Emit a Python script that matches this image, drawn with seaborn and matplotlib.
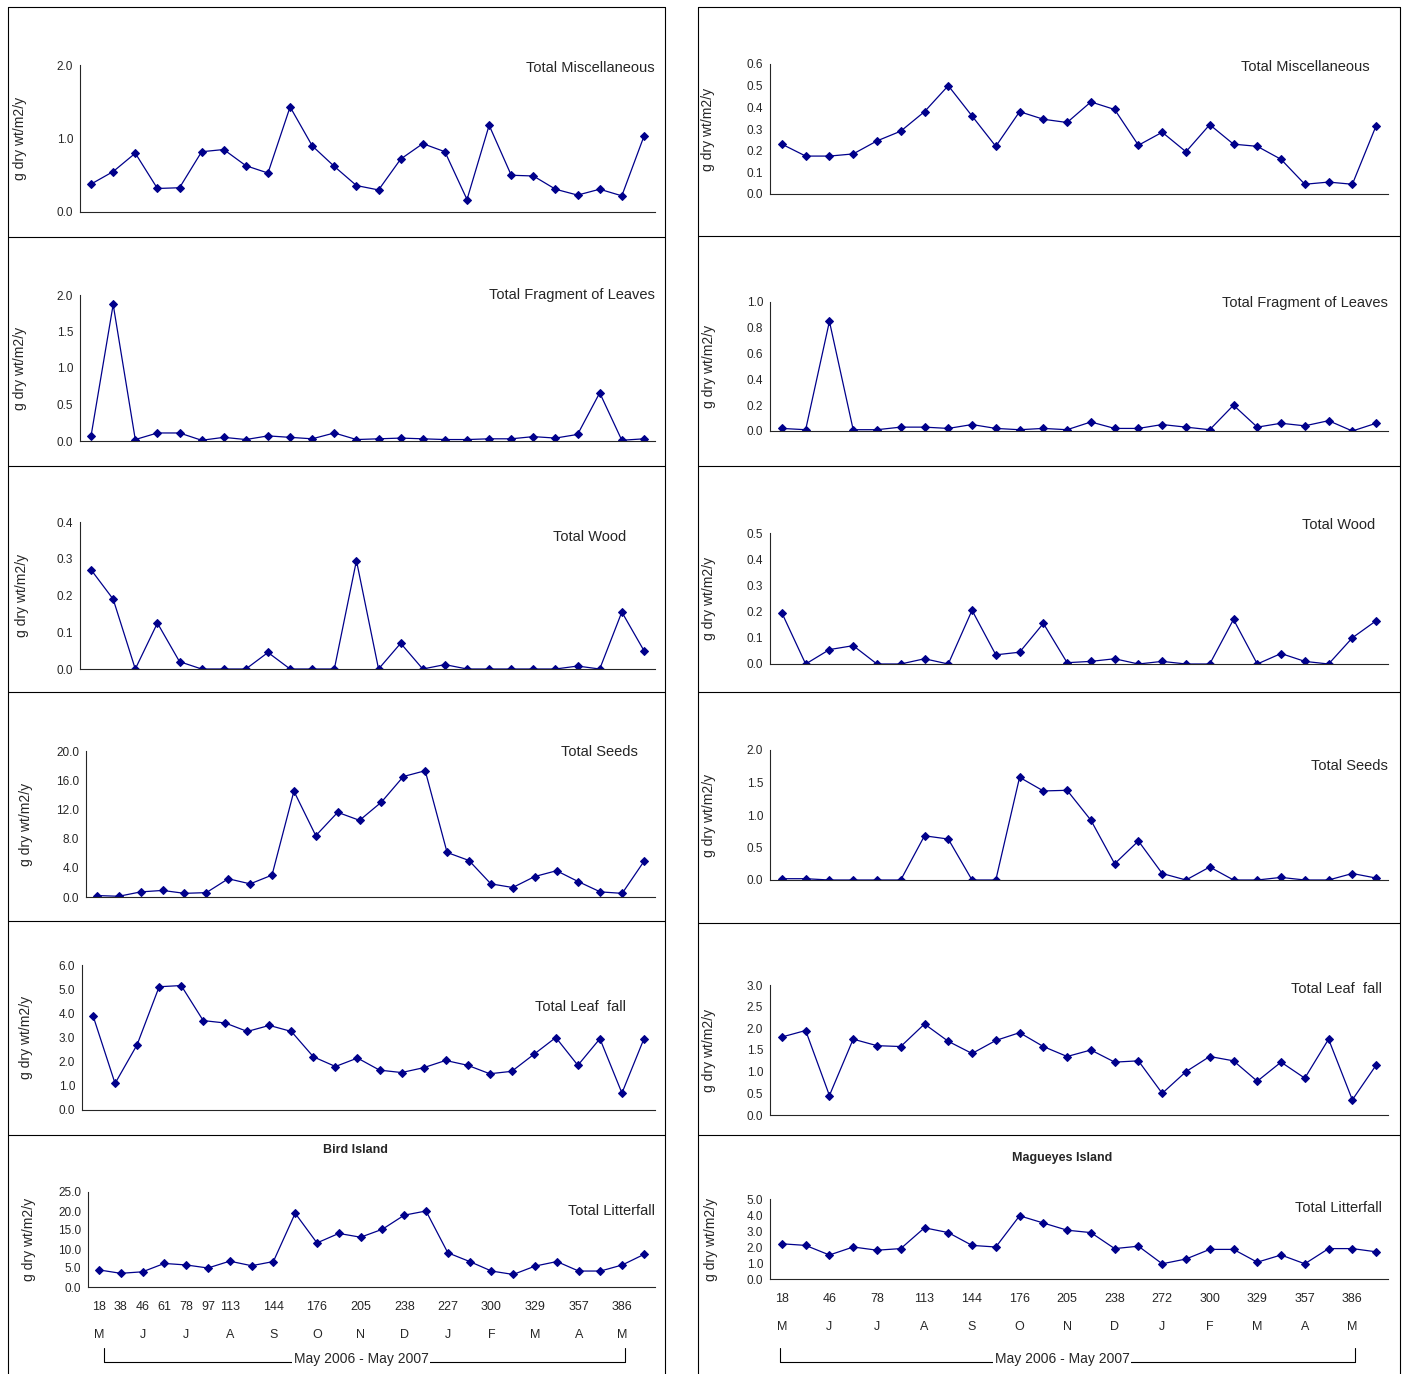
import numpy as np
import pandas as pd
import matplotlib
matplotlib.use("Agg")
import matplotlib.pyplot as plt
from matplotlib.lines import Line2D
import seaborn as sns

sns.set_style("white")
plt.rcParams['font.family'] = ['Liberation Sans', 'DejaVu Sans']

# ---- data: 26 sampling points per site ----
bird_misc = [0.38, 0.55, 0.80, 0.32, 0.33, 0.82, 0.85, 0.63, 0.53, 1.43, 0.90, 0.62, 0.36,
             0.30, 0.72, 0.93, 0.82, 0.17, 1.18, 0.50, 0.49, 0.31, 0.23, 0.31, 0.22, 1.03]
bird_frag = [0.07, 1.87, 0.02, 0.11, 0.11, 0.01, 0.05, 0.02, 0.07, 0.05, 0.03, 0.11, 0.02,
             0.03, 0.04, 0.03, 0.02, 0.02, 0.03, 0.03, 0.06, 0.04, 0.09, 0.66, 0.01, 0.03]
bird_wood = [0.27, 0.19, 0.0, 0.125, 0.02, 0.0, 0.0, 0.0, 0.045, 0.0, 0.0, 0.0, 0.295,
             0.0, 0.07, 0.0, 0.012, 0.0, 0.0, 0.0, 0.0, 0.0, 0.008, 0.0, 0.155, 0.05]
bird_seeds = [0.2, 0.1, 0.7, 0.9, 0.5, 0.6, 2.5, 1.8, 3.0, 14.5, 8.4, 11.6, 10.5,
              13.0, 16.5, 17.3, 6.1, 5.0, 1.8, 1.3, 2.8, 3.6, 2.1, 0.7, 0.5, 4.9]
bird_leaf = [3.9, 1.1, 2.7, 5.1, 5.15, 3.7, 3.6, 3.25, 3.5, 3.25, 2.2, 1.8, 2.15,
             1.65, 1.55, 1.75, 2.05, 1.85, 1.5, 1.6, 2.3, 3.0, 1.85, 2.95, 0.7, 2.95]
bird_total = [4.5, 3.6, 4.0, 6.2, 5.8, 5.0, 6.8, 5.6, 6.7, 19.4, 11.6, 14.1, 13.1,
              15.2, 18.9, 20.0, 9.0, 6.7, 4.2, 3.3, 5.5, 6.7, 4.2, 4.2, 5.8, 8.6]

mag_misc = [0.23, 0.175, 0.175, 0.185, 0.245, 0.29, 0.38, 0.50, 0.36, 0.22, 0.38, 0.345, 0.33,
            0.425, 0.39, 0.225, 0.285, 0.195, 0.32, 0.23, 0.22, 0.16, 0.045, 0.055, 0.045, 0.315]
mag_frag = [0.02, 0.01, 0.85, 0.01, 0.01, 0.03, 0.03, 0.02, 0.05, 0.02, 0.01, 0.02, 0.01,
            0.07, 0.02, 0.02, 0.05, 0.03, 0.01, 0.20, 0.03, 0.06, 0.04, 0.08, 0.0, 0.06]
mag_wood = [0.195, 0.0, 0.055, 0.07, 0.0, 0.0, 0.02, 0.0, 0.205, 0.035, 0.045, 0.155, 0.005,
            0.01, 0.02, 0.0, 0.01, 0.0, 0.0, 0.17, 0.0, 0.04, 0.01, 0.0, 0.10, 0.165]
mag_seeds = [0.02, 0.02, 0.0, 0.0, 0.0, 0.0, 0.68, 0.63, 0.0, 0.0, 1.58, 1.37, 1.38,
             0.92, 0.25, 0.60, 0.10, 0.0, 0.20, 0.0, 0.0, 0.04, 0.0, 0.0, 0.10, 0.03]
mag_leaf = [1.8, 1.95, 0.45, 1.75, 1.6, 1.58, 2.1, 1.7, 1.42, 1.72, 1.9, 1.58, 1.35,
            1.5, 1.22, 1.25, 0.5, 1.0, 1.35, 1.25, 0.78, 1.22, 0.85, 1.75, 0.35, 1.15]
mag_total = [2.2, 2.1, 1.5, 2.0, 1.8, 1.9, 3.2, 2.9, 2.1, 2.0, 3.95, 3.5, 3.05,
             2.9, 1.9, 2.05, 0.95, 1.25, 1.85, 1.85, 1.05, 1.5, 0.95, 1.9, 1.9, 1.7]

bird_day_pos = [0, 1, 2, 3, 4, 5, 6, 8, 10, 12, 14, 16, 18, 20, 22, 24]
bird_day_lab = ['18', '38', '46', '61', '78', '97', '113', '144', '176', '205', '238', '227',
                '300', '329', '357', '386']
mag_day_pos = [0, 2, 4, 6, 8, 10, 12, 14, 16, 18, 20, 22, 24]
mag_day_lab = ['18', '46', '78', '113', '144', '176', '205', '238', '272', '300', '329', '357', '386']
month_pos = [0, 2, 4, 6, 8, 10, 12, 14, 16, 18, 20, 22, 24]
month_lab = ['M', 'J', 'J', 'A', 'S', 'O', 'N', 'D', 'J', 'F', 'M', 'A', 'M']

W, H = 1405, 1374
fig = plt.figure(figsize=(W / 100, H / 100), dpi=100)
navy = '#00008B'


def px_axes(x0, y0, x1, y1):
    return fig.add_axes([x0 / W, 1 - y1 / H, (x1 - x0) / W, (y1 - y0) / H])


def panel(box, vals, yticks, title, tpos, label_x, fs=8.5):
    ax = px_axes(*box)
    df = pd.DataFrame({'x': np.arange(len(vals)), 'y': vals})
    sns.lineplot(data=df, x='x', y='y', ax=ax, color=navy, lw=0.9,
                 marker='D', markersize=4, markeredgecolor=navy)
    ax.set_xlim(-0.5, len(vals) - 0.5)
    ax.set_ylim(yticks[0], yticks[-1])
    ax.set_yticks(yticks)
    ax.set_yticklabels([f'{t:.1f}' for t in yticks], fontsize=fs)
    ax.set_xticks(np.arange(len(vals)) + 0.5)
    ax.set_xticklabels([])
    ax.tick_params(axis='both', direction='out', length=3, width=0.8, pad=2)
    for s in ['top', 'right']:
        ax.spines[s].set_visible(False)
    ax.spines['left'].set_linewidth(0.8)
    ax.spines['bottom'].set_linewidth(0.8)
    ax.set_xlabel('')
    ax.set_ylabel('g dry wt/m2/y', fontsize=10)
    ax.yaxis.set_label_coords((label_x - box[0]) / (box[2] - box[0]), 0.5)
    ax.text(tpos[0], tpos[1], title, transform=ax.transAxes, ha='right', va='center', fontsize=10.5)
    return ax


# left column (Bird Island)
panel((80, 65, 655, 212), bird_misc, [0.0, 1.0, 2.0], 'Total Miscellaneous', (1.0, 0.98), 27)
panel((80, 295, 655, 441), bird_frag, [0.0, 0.5, 1.0, 1.5, 2.0], 'Total Fragment of Leaves', (1.0, 1.0), 27)
panel((80, 522, 655, 669), bird_wood, [0.0, 0.1, 0.2, 0.3, 0.4], 'Total Wood', (0.95, 0.9), 29)
panel((86, 751, 655, 897), bird_seeds, [0.0, 4.0, 8.0, 12.0, 16.0, 20.0], 'Total Seeds', (0.97, 0.99), 33)
panel((82, 965, 655, 1110), bird_leaf, [0.0, 1.0, 2.0, 3.0, 4.0, 5.0, 6.0], 'Total Leaf  fall', (0.95, 0.71), 33)
axb = panel((88, 1192, 655, 1287), bird_total, [0.0, 5.0, 10.0, 15.0, 20.0, 25.0], 'Total Litterfall', (1.0, 0.8), 36)

# right column (Magueyes Island)
panel((770, 64, 1388, 194), mag_misc, [0.0, 0.1, 0.2, 0.3, 0.4, 0.5, 0.6], 'Total Miscellaneous', (0.97, 0.98), 715)
panel((770, 302, 1388, 431), mag_frag, [0.0, 0.2, 0.4, 0.6, 0.8, 1.0], 'Total Fragment of Leaves', (1.0, 0.99), 716)
panel((770, 533, 1388, 664), mag_wood, [0.0, 0.1, 0.2, 0.3, 0.4, 0.5], 'Total Wood', (0.98, 1.06), 716)
panel((770, 750, 1388, 880), mag_seeds, [0.0, 0.5, 1.0, 1.5, 2.0], 'Total Seeds', (1.0, 0.88), 716)
panel((770, 985, 1388, 1115), mag_leaf, [0.0, 0.5, 1.0, 1.5, 2.0, 2.5, 3.0], 'Total Leaf  fall', (0.99, 0.97), 716)
axm = panel((770, 1199, 1388, 1279), mag_total, [0.0, 1.0, 2.0, 3.0, 4.0, 5.0], 'Total Litterfall', (0.99, 0.89), 718)

# day / month labels and site titles under the litterfall panels
for ax, dpos, dlab, title, tx, ty in [(axb, bird_day_pos, bird_day_lab, 'Bird Island', 355, 1150),
                                      (axm, mag_day_pos, mag_day_lab, 'Magueyes Island', 1062, 1158)]:
    tr = ax.get_xaxis_transform()
    h_ax = ax.get_position().height
    for p, l in zip(dpos, dlab):
        ax.text(p, -(20 / H) / h_ax, l, transform=tr, ha='center', va='center', fontsize=9)
    for p, l in zip(month_pos, month_lab):
        ax.text(p, -(48 / H) / h_ax, l, transform=tr, ha='center', va='center', fontsize=9)
    fig.text(tx / W, 1 - ty / H, title, ha='center', va='center', fontsize=9, fontweight='bold')

# brackets
for x0, x1, xm in [(104, 625, 361), (780, 1355, 1062)]:
    fig.add_artist(Line2D([x0 / W, x0 / W, x1 / W, x1 / W],
                          [1 - 1348 / H, 1 - 1362 / H, 1 - 1362 / H, 1 - 1348 / H],
                          color='black', lw=0.8))
    fig.text(xm / W, 1 - 1359 / H, 'May 2006 - May 2007', ha='center', va='center', fontsize=10,
             bbox=dict(facecolor='white', edgecolor='none', pad=1))

# panel frames
rows_l = [7, 237, 466, 692, 921, 1135]
rows_r = [7, 236, 466, 692, 923, 1135]
for xa, xb, rows in [(8, 665, rows_l), (698, 1400, rows_r)]:
    for y in rows:
        fig.add_artist(Line2D([xa / W, xb / W], [1 - y / H, 1 - y / H], color='black', lw=0.8))
    for x in (xa, xb):
        fig.add_artist(Line2D([x / W, x / W], [1 - 7 / H, 0], color='black', lw=0.8))

fig.savefig('out.png', dpi=100)
